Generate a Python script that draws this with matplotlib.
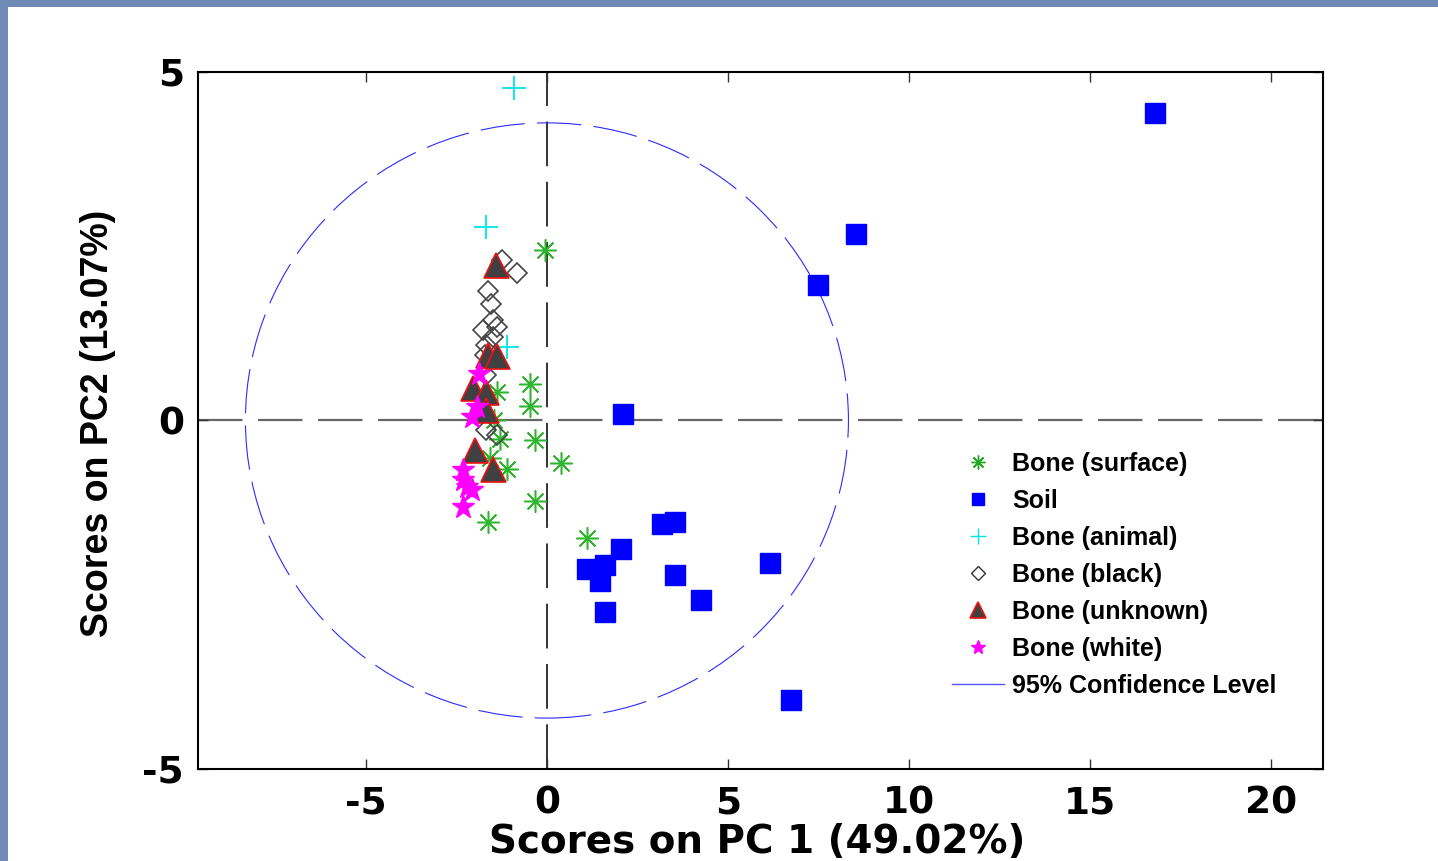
import matplotlib
matplotlib.use("Agg")
import matplotlib.pyplot as plt
from matplotlib.patches import Ellipse, Rectangle
from matplotlib.lines import Line2D

# PCA scores (PC1, PC2)
surface_x = [-0.05, -0.47, -0.47, -1.39, -1.45, -0.33, 0.38, -0.33, -1.62, 1.10, -1.57, -1.11, -1.30]
surface_y = [2.45, 0.53, 0.21, 0.41, 0.01, -0.28, -0.61, -1.16, -1.46, -1.69, -0.54, -0.69, -0.26]

soil_x = [16.80, 8.54, 7.49, 2.10, 3.17, 3.54, 2.04, 1.10, 1.60, 1.46, 3.54, 4.25, 1.60, 6.16, 6.74]
soil_y = [4.41, 2.68, 1.94, 0.09, -1.48, -1.46, -1.84, -2.13, -2.07, -2.30, -2.22, -2.57, -2.75, -2.04, -4.01]

animal_x = [-0.91, -1.69, -1.11]
animal_y = [4.77, 2.77, 1.06]

black_x = [-1.25, -0.82, -1.62, -1.55, -1.48, -1.78, -1.37, -1.48, -1.67, -1.71, -1.67, -1.69, -1.39]
black_y = [2.30, 2.12, 1.86, 1.67, 1.44, 1.30, 1.34, 1.20, 1.08, 0.94, 0.65, -0.14, -0.21]

unknown_x = [-1.41, -1.62, -1.39, -2.04, -1.69, -1.67, -1.99, -1.48]
unknown_y = [2.23, 0.94, 0.92, 0.46, 0.41, 0.15, -0.42, -0.69]

white_x = [-1.87, -1.94, -2.08, -2.31, -2.31, -2.22, -2.08, -2.31]
white_y = [0.67, 0.20, 0.05, -0.71, -0.85, -0.95, -1.00, -1.24]

# 95% confidence ellipse semi-axes (centred at origin)
ell_a = 8.33
ell_b = 4.27

labels = ["Bone (surface)", "Soil", "Bone (animal)", "Bone (black)",
          "Bone (unknown)", "Bone (white)", "95% Confidence Level"]

fig = plt.figure(figsize=(14.38, 8.61), dpi=100)
fig.patch.set_facecolor("#6f8ab5")
fig.patches.append(Rectangle((8 / 1438, 0), 1, 1 - 7 / 861, transform=fig.transFigure,
                             facecolor="white", edgecolor="none", zorder=-5))

ax = fig.add_axes([0.1377, 0.1069, 0.7823, 0.8095])
ax.set_xlim(-9.64, 21.44)
ax.set_ylim(-5, 5)

ax.axvline(0, color="#333333", lw=1.4, linestyle=(0, (23, 8)), zorder=1)
ax.axhline(0, color="#666666", lw=1.6, linestyle=(0, (20, 7)), zorder=1)

ax.add_patch(Ellipse((0, 0), 2 * ell_a, 2 * ell_b, fill=False, edgecolor="#2b2bff",
                     lw=0.8, linestyle=(0, (40, 11)), zorder=1))

ax.plot(surface_x, surface_y, linestyle="none", marker=(8, 2, 0), ms=16,
        mec="#2db52d", mew=1.1, zorder=3)
ax.plot(soil_x, soil_y, linestyle="none", marker="s", ms=15,
        mfc="#0000ff", mec="#0000ff", zorder=3)
ax.plot(animal_x, animal_y, linestyle="none", marker="+", ms=17,
        mec="#00e5e5", mew=1.3, zorder=3)
ax.plot(black_x, black_y, linestyle="none", marker="D", ms=10.5,
        mfc="none", mec="#444444", mew=1.2, zorder=3)
ax.plot(unknown_x, unknown_y, linestyle="none", marker="^", ms=18,
        mfc="#404040", mec="#ee1111", mew=1.2, zorder=4)
ax.plot(white_x, white_y, linestyle="none", marker="*", ms=17,
        mfc="#ff00ff", mec="#ff00ff", zorder=4)

handles = [
    Line2D([], [], linestyle="none", marker=(8, 2, 0), ms=10, mec="#1faa1f", mew=1),
    Line2D([], [], linestyle="none", marker="s", ms=9, mfc="#0000ff", mec="#0000ff"),
    Line2D([], [], linestyle="none", marker="+", ms=11, mec="#00e5e5", mew=1),
    Line2D([], [], linestyle="none", marker="D", ms=7.5, mfc="none", mec="#333333", mew=1),
    Line2D([], [], linestyle="none", marker="^", ms=11, mfc="#404040", mec="#ee1111", mew=1.2),
    Line2D([], [], linestyle="none", marker="*", ms=10, mfc="#ff00ff", mec="#ff00ff"),
    Line2D([], [], color="#5555ff", lw=1),
]
leg = ax.legend(handles, labels, loc="upper left", bbox_to_anchor=(0.670, 0.455),
                frameon=False, borderpad=0, borderaxespad=0, handlelength=2.1,
                handletextpad=0.32, labelspacing=0.52,
                prop={"family": ["Liberation Sans", "DejaVu Sans"],
                      "weight": "bold", "size": 18})

ax.set_xticks([-5, 0, 5, 10, 15, 20])
ax.set_yticks([-5, 0, 5])
ax.set_xticklabels(["-5", "0", "5", "10", "15", "20"])
ax.set_yticklabels(["-5", "0", "5"])
ax.tick_params(direction="in", length=7, width=1, top=True, right=True,
               labelsize=27, pad=10, color="#333333")
ax.tick_params(axis="x", pad=12)
for lab in ax.get_xticklabels() + ax.get_yticklabels():
    lab.set_fontweight("bold")
    lab.set_family(["DejaVu Sans"])

ax.set_xlabel("Scores on PC 1 (49.02%)", fontsize=28, fontweight="bold",
              family=["DejaVu Sans"])
ax.xaxis.set_label_coords(0.497, -0.077)
ax.xaxis.label.set_va("top")
ax.set_ylabel("Scores on PC2 (13.07%)", fontsize=27, fontweight="bold",
              family=["Liberation Sans", "DejaVu Sans"])
ax.yaxis.set_label_coords(-0.073, 0.496)

for sp in ax.spines.values():
    sp.set_linewidth(1.5)

fig.savefig("out.png", dpi=100, facecolor=fig.get_facecolor())
